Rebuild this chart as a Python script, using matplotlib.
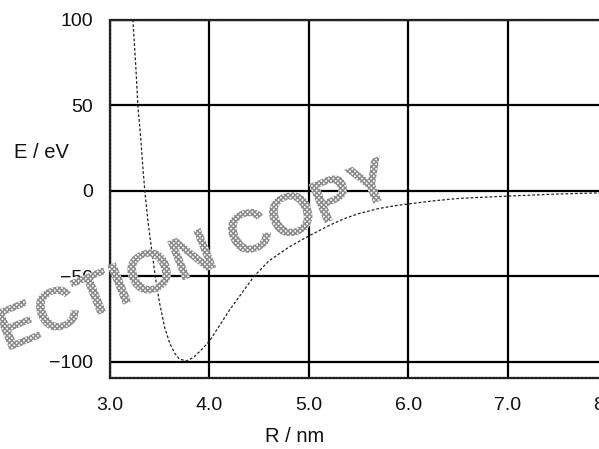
import matplotlib
matplotlib.use("Agg")
import matplotlib.pyplot as plt
import matplotlib.patheffects as pe

# Potential energy curve
R_nm = [3.23, 3.26, 3.28, 3.31, 3.33, 3.35, 3.38, 3.42, 3.46, 3.50, 3.55,
        3.60, 3.65, 3.70, 3.77, 3.84, 3.92, 4.00, 4.10, 4.20, 4.30, 4.45,
        4.60, 4.80, 5.00, 5.20, 5.35, 5.50, 5.70, 5.87, 6.00, 6.25, 6.50,
        7.00, 7.50, 8.00]
E_eV = [100, 72, 50, 30, 14, 0, -17, -35, -52, -66, -80,
        -89, -95, -98.5, -99.5, -97.5, -93, -88, -79, -70, -62, -50,
        -41, -33, -26.5, -20.5, -16.5, -13.5, -10.5, -8.8, -7.8, -6, -4.6,
        -3.2, -2, -1.2]

x_ticks = [3.0, 4.0, 5.0, 6.0, 7.0, 8.0]
x_tick_labels = ["3.0", "4.0", "5.0", "6.0", "7.0", "8.0"]
y_ticks = [-100, -50, 0, 50, 100]
y_tick_labels = ["\u2212100", "\u221250", "0", "50", "100"]

plt.rcParams["font.family"] = ["Liberation Sans", "DejaVu Sans"]
plt.rcParams["hatch.linewidth"] = 1.1

W, H = 599, 449
fig = plt.figure(figsize=(W / 100, H / 100), dpi=100)
ax = fig.add_axes([110 / W, (H - 378) / H, (607 - 110) / W, (378 - 19.5) / H])

ax.plot(R_nm, E_eV, color="#222222", linewidth=0.9, linestyle=(0, (2.2, 1.6)), zorder=3)

ax.set_xlim(3.0, 8.0)
ax.set_ylim(-109.5, 100)
ax.set_xticks(x_ticks)
ax.set_xticklabels(x_tick_labels)
ax.set_yticks(y_ticks)
ax.set_yticklabels(y_tick_labels)
ax.tick_params(length=0, labelsize=14, colors="#111111")
ax.tick_params(axis="x", pad=14)
ax.tick_params(axis="y", pad=12)

ax.grid(True, color="black", linewidth=1.6, zorder=1)
ax.set_axisbelow(True)
for s in ax.spines.values():
    s.set_linestyle((0, (1, 0.6)))
    s.set_linewidth(1.6)
    s.set_color("#222222")

fig.text(41 / W, 1 - 152 / H, "E / eV", fontsize=14.5, ha="center", va="center", color="#111111")
fig.text(295 / W, 1 - 437 / H, "R / nm", fontsize=14.5, ha="center", va="center", color="#111111")

# watermark across the plot
wm = fig.text(6 / W, 1 - 352 / H, "ECTION COPY", fontsize=44, fontweight="bold",
              rotation=22, rotation_mode="anchor", ha="left", va="baseline",
              color="white", zorder=10)
wm.set_path_effects([pe.PathPatchEffect(facecolor="white", edgecolor="#8c8c8c",
                                        hatch="xxxxxxx", linewidth=0.0)])

fig.savefig("out.png", dpi=100)
